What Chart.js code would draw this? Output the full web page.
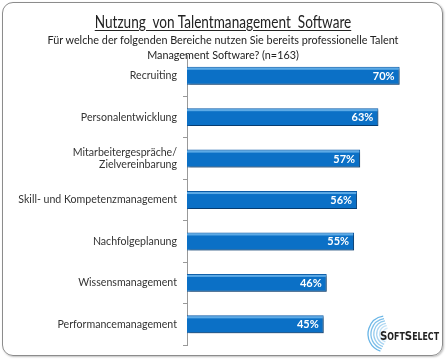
<!DOCTYPE html>
<html>
<head>
<meta charset="utf-8">
<script src="https://cdn.jsdelivr.net/npm/chart.js@4"></script>
<style>
  html, body { margin: 0; padding: 0; background: #fff; }
  #wrap { position: relative; width: 446px; height: 359px; }
  #frame {
    position: absolute; left: 2px; top: 2px; width: 439px; height: 352px;
    border: 1px solid #8c8c8c; border-radius: 11px;
    box-shadow: 1px 1px 2px rgba(0,0,0,0.25);
  }
  #chart { position: absolute; left: 0; top: 0; }
  .title {
    position: absolute; left: 0; width: 446px; text-align: center;
    font-family: Lato, "Open Sans", sans-serif; color: #222;
  }
  #t1 { top: 11px; font-size: 17px; text-decoration: underline; text-underline-offset: 2px; white-space: pre; transform: scaleX(0.8); }
  #t2 { top: 32px; font-size: 11.5px; line-height: 15px; transform: scaleX(0.94); }
</style>
</head>
<body>
<div id="wrap">
  <div id="frame"></div>
  <canvas id="chart" width="446" height="359"></canvas>
  <div class="title" id="t1">Nutzung  von Talentmanagement  Software</div>
  <div class="title" id="t2">Für welche der folgenden Bereiche nutzen Sie bereits professionelle Talent<br>Management Software? (n=163)</div>
</div>
<script>
const categories = [
  "Recruiting",
  "Personalentwicklung",
  ["Mitarbeitergespräche/", "Zielvereinbarung"],
  "Skill- und Kompetenzmanagement",
  "Nachfolgeplanung",
  "Wissensmanagement",
  "Performancemanagement",
];
const shares = [70, 63, 57, 56, 55, 46, 45];

const FONT = "Lato, 'Open Sans', sans-serif";

const barStyle = {
  id: "barStyle",
  beforeDatasetsDraw(chart) {
    const ctx = chart.ctx;
    ctx.save();
    ctx.shadowColor = "rgba(0,0,0,0.35)";
    ctx.shadowOffsetX = 2;
    ctx.shadowOffsetY = 2;
    ctx.shadowBlur = 2;
  },
  afterDatasetsDraw(chart) {
    const ctx = chart.ctx;
    ctx.restore();
    const meta = chart.getDatasetMeta(0);
    meta.data.forEach((bar, i) => {
      const top = bar.y - bar.height / 2;
      const left = bar.base;
      const w = bar.x - bar.base;
      // light top edge
      ctx.fillStyle = "rgba(120,190,240,0.75)";
      ctx.fillRect(left, top + 1, w - 1, 2);
      // label
      ctx.fillStyle = "#fff";
      ctx.font = "bold 11px " + FONT;
      ctx.textAlign = "right";
      ctx.textBaseline = "middle";
      ctx.fillText(shares[i] + "%", bar.x - 5, bar.y + 0.5);
    });
  },
};

const logo = {
  id: "logo",
  afterDraw(chart) {
    const ctx = chart.ctx;
    ctx.save();
    ctx.strokeStyle = "#4fa8e2";
    for (let k = 0; k < 6; k++) {
      ctx.lineWidth = 1.3;
      ctx.globalAlpha = 0.85 - k * 0.12;
      ctx.beginPath();
      ctx.arc(386 + k * 0.5, 334, 18 - k * 2.4, Math.PI * 0.6, Math.PI * 1.45);
      ctx.stroke();
    }
    ctx.globalAlpha = 1;
    ctx.fillStyle = "#222";
    ctx.textBaseline = "alphabetic";
    ctx.textAlign = "left";
    const parts = [["S", 13], ["OFT", 10], ["S", 13], ["ELECT", 10]];
    let total = 0;
    parts.forEach(([t, s]) => {
      ctx.font = "bold " + s + "px 'DejaVu Sans Condensed', " + FONT;
      total += ctx.measureText(t).width;
    });
    ctx.translate(380, 340);
    ctx.scale(59 / total, 1);
    let x = 0;
    parts.forEach(([t, s]) => {
      ctx.font = "bold " + s + "px 'DejaVu Sans Condensed', " + FONT;
      ctx.fillText(t, x, 0);
      x += ctx.measureText(t).width;
    });
    ctx.restore();
  },
};

new Chart(document.getElementById("chart"), {
  type: "bar",
  data: {
    labels: categories,
    datasets: [{
      data: shares,
      backgroundColor: "#0b70c6",
      borderColor: "#0a5aa6",
      borderWidth: 1,
      borderSkipped: "left",
      barPercentage: 0.9,
      categoryPercentage: 0.48,
    }],
  },
  options: {
    indexAxis: "y",
    responsive: false,
    animation: false,
    layout: { padding: { top: 55, bottom: 14, left: 0, right: 16 } },
    plugins: { legend: { display: false }, tooltip: { enabled: false } },
    scales: {
      x: { display: false, min: 0, max: 80 },
      y: {
        afterFit(scale) { scale.width = 187; },
        border: { display: true, color: "#999", width: 1 },
        grid: { display: true, drawOnChartArea: false, tickLength: 4, color: "#999", offset: true },
        ticks: { color: "#333", padding: 6, font: { family: FONT, size: 10.6 } },
      },
    },
  },
  plugins: [barStyle, logo],
});
</script>
</body>
</html>
